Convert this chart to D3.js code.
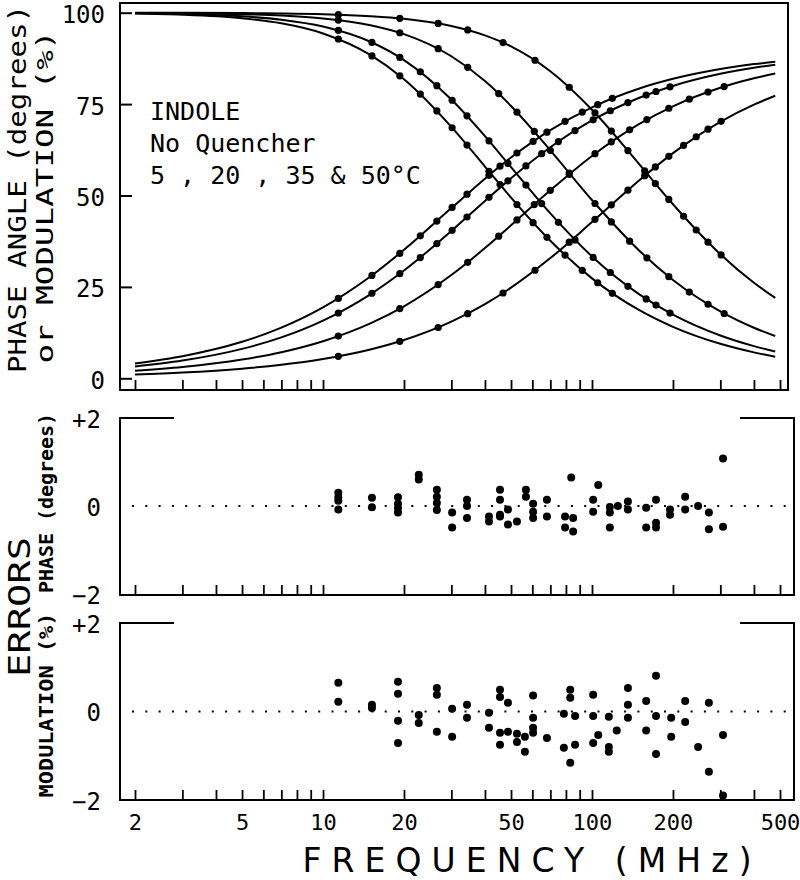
<!DOCTYPE html>
<html><head><meta charset="utf-8">
<script src="https://cdn.jsdelivr.net/npm/d3@7"></script>
<style>body{margin:0;background:#fff}svg{display:block}</style>
</head><body><svg id="c" width="800" height="880"></svg>
<script>
// ---------- DATA ----------
const curveFreq = [2,3,5,7,10,15,20,30,40,50,70,100,150,200,300,400,480];
const phase5  = [4.03,6.03,9.98,13.84,19.38,27.83,35.14,46.55,54.61,60.39,67.90,74.13,79.27,81.91,84.59,85.94,86.61];
const mod5    = [99.75,99.45,98.49,97.10,94.33,88.44,81.78,68.77,57.92,49.42,37.62,27.34,18.62,14.07,9.43,7.09,5.91];
const phase20 = [3.24,4.85,8.05,11.19,15.79,22.98,29.48,40.31,48.52,54.72,63.19,70.52,76.73,79.97,83.28,84.95,85.79];
const mod20   = [99.84,99.64,99.02,98.10,96.23,92.06,87.05,76.26,66.24,57.75,45.10,33.34,22.95,17.41,11.71,8.81,7.35];
const phase35 = [2.05,3.08,5.12,7.14,10.15,15.04,19.70,28.24,35.62,41.84,51.42,60.82,69.58,74.40,79.46,82.05,83.36];
const mod35   = [99.94,99.86,99.60,99.22,98.43,96.58,94.14,88.09,81.30,74.50,62.36,48.76,34.89,26.89,18.30,13.83,11.56];
const phase50 = [1.06,1.59,2.64,3.70,5.28,7.89,10.47,15.49,20.28,24.79,32.88,42.72,54.17,61.58,70.16,74.85,77.29];
const mod50   = [99.98,99.96,99.89,99.79,99.58,99.05,98.34,96.37,93.80,90.79,83.98,73.46,58.53,47.61,33.95,26.13,22.00];

const freq5 = [11.4,15.2,19.3,23,26.5,30.2,34.3,41.4,45.5,52.6,60.4,68,79.4,92,105,119];
const dotPhase5 = [21.86,28.14,34.17,38.98,43.00,46.74,50.35,55.53,58.01,61.63,64.80,67.32,70.30,72.83,74.85,76.57];
const dotMod5 = [92.81,88.18,82.73,77.73,73.14,68.53,63.80,56.60,52.98,47.54,42.58,38.56,33.70,29.52,26.13,23.23];
const freq20 = [11.4,15.2,19.3,23,26.5,30.2,34.3,41.4,48.7,56.8,65,75,86.5,101,117,136,159,173,195];
const dotPhase20 = [17.86,23.26,28.62,33.03,36.85,40.49,44.12,49.49,54.01,58.09,61.45,64.75,67.76,70.70,73.18,75.42,77.46,78.45,79.72];
const dotMod20 = [95.18,91.88,87.78,83.83,80.03,76.05,71.79,64.95,58.76,52.86,47.79,42.65,37.85,33.05,28.94,25.17,21.71,20.03,17.85];
const freq35 = [11.4,19.3,26.8,34.5,45,52.6,61,70,82.3,102.6,118,138,160,193,230,270,310];
const dotPhase35 = [11.54,19.07,25.64,31.71,38.87,43.31,47.53,51.42,55.80,61.44,64.67,67.97,70.76,73.86,76.35,78.31,79.79];
const dotMod35 = [97.98,94.51,90.16,85.07,77.87,72.79,67.52,62.36,56.15,47.81,42.78,37.51,32.95,27.79,23.59,20.25,17.73];
const freq50 = [11.4,19.3,26.8,34.5,46.7,61.4,82.3,102.6,118,136,157,172,193,219,244,270,302];
const dotPhase50 = [6.01,10.11,13.90,17.67,23.33,29.56,37.24,43.47,47.45,51.47,55.41,57.82,60.71,63.69,66.07,68.15,70.28];
const dotMod50 = [99.45,98.45,97.07,95.28,91.82,86.99,79.61,72.59,67.61,62.28,56.77,53.27,48.93,44.32,40.56,37.22,33.75];

const phaseErrFreq = [11.4,11.4,11.4,11.4,15.2,15.2,19.0,19.0,19.0,19.0,22.7,22.7,26.5,26.5,26.5,26.5,30.2,30.2,34.3,34.3,34.3,41.4,41.4,45.5,45.5,45.5,45.5,48.7,48.7,52.6,56.8,56.8,60.4,60.4,60.4,68,68,79.4,79.4,83.7,85.1,85.1,101,101,105.5,116.5,116.5,116.5,124.8,136,136,159,159,173,173,173,195,195,222,222,248,272,272,307,307];
const phaseErr = [0.30,0.20,0.12,-0.08,0.19,-0.03,0.20,0.05,-0.05,-0.15,0.71,0.60,0.37,0.21,0.07,-0.09,-0.15,-0.49,0.14,0.0,-0.27,-0.24,-0.35,0.37,0.14,-0.20,-0.24,-0.08,-0.42,-0.35,0.37,0.21,0.05,-0.13,-0.27,0.14,-0.24,-0.24,-0.49,0.65,-0.27,-0.58,0.14,-0.13,0.48,-0.02,-0.15,-0.49,0.0,0.10,-0.08,-0.04,-0.49,0.14,-0.38,-0.49,-0.08,-0.20,0.21,-0.08,0.0,-0.15,-0.53,1.08,-0.47];
const modErrFreq = [11.4,11.4,15.2,15.2,19.0,19.0,19.0,19.0,22.7,22.7,26.5,26.5,26.5,30.2,30.2,34.3,34.3,41.4,41.4,45.5,45.5,45.5,45.5,48.7,48.7,52.6,52.6,56.3,56.3,60.4,60.4,60.4,60.4,68,78.6,78.6,83,83,83,86.5,86.5,101,101,101,105.5,115.5,115.5,115.5,123.6,136,136,136,159,159,173,173,173,197,197,222,222,248,272,272,307,307];
const modErr = [0.65,0.22,0.15,0.08,0.67,0.40,-0.21,-0.71,-0.08,-0.26,0.53,0.38,-0.46,0.06,-0.57,0.15,-0.14,-0.03,-0.37,0.49,0.33,-0.48,-0.75,0.20,-0.46,-0.50,-0.69,-0.57,-0.91,0.36,-0.14,-0.37,-0.48,-0.60,-0.05,-0.82,0.49,0.31,-1.16,-0.10,-0.75,0.38,-0.10,-0.71,-0.53,-0.12,-0.80,-0.91,-0.43,0.53,0.15,-0.14,0.24,-0.43,0.81,-0.10,-0.96,-0.14,-0.57,0.24,-0.24,-0.80,0.20,-1.36,-0.53,-1.90];

const tickVals = [2,3,4,5,6,7,8,9,10,20,30,40,50,60,70,80,90,100,200,300,400,500];
const xLabels = [2,5,10,20,50,100,200,500];
const topYTicks = [0,25,50,75,100];
const errYTicks = [-2,0,2];

// ---------- DRAWING ----------
const FONT = "'DejaVu Sans Mono', monospace";
const svg = d3.select('#c');
svg.append('rect').attr('width',800).attr('height',880).attr('fill','#fff');

const x = d3.scaleLog().domain([1.759, 535.4]).range([120, 788]);
const yTop = d3.scaleLinear().domain([0,100]).range([378.3, 12.7]);
const yPh = d3.scaleLinear().domain([-2,2]).range([594, 418]);
const yMod = d3.scaleLinear().domain([-2,2]).range([800, 623]);

// top frame
svg.append('rect').attr('x',120).attr('y',3).attr('width',668).attr('height',387)
  .attr('fill','none').attr('stroke','#000').attr('stroke-width',2);

function xTicks(yPos){
  const g = svg.append('g').attr('transform',`translate(0,${yPos})`)
    .call(d3.axisBottom(x).tickValues(tickVals).tickSize(-10).tickFormat(''));
  g.select('.domain').remove();
  g.selectAll('line').attr('stroke','#000').attr('stroke-width',1.8);
}
xTicks(390);
xTicks(595);
xTicks(800);

// top y axis
const gy = svg.append('g').attr('transform','translate(120,0)')
  .call(d3.axisLeft(yTop).tickValues(topYTicks).tickSize(-12).tickPadding(15).tickFormat(d3.format('d')));
gy.select('.domain').remove();
gy.selectAll('line').attr('stroke','#000').attr('stroke-width',2);
gy.selectAll('text').attr('font-family',FONT).attr('font-size',24).attr('dy','0.42em').attr('fill','#000');

// error frames
function errFrame(top,bot){
  svg.append('path').attr('d',`M174,${top}H120V${bot}H794V${top}H740`)
    .attr('fill','none').attr('stroke','#000').attr('stroke-width',2);
}
errFrame(418,595);
errFrame(623,800);

const fmtErr = v => v>0 ? '+2' : (v<0 ? '\u22122' : '0');
[yPh, yMod].forEach(ys=>{
  const g = svg.append('g').attr('transform','translate(120,0)')
    .call(d3.axisLeft(ys).tickValues(errYTicks).tickSize(0).tickPadding(19).tickFormat(fmtErr));
  g.select('.domain').remove();
  g.selectAll('text').attr('font-family',FONT).attr('font-size',24).attr('dy','0.38em').attr('fill','#000');
});

// zero dotted lines
[yPh(0), yMod(0)].forEach(yy=>{
  svg.append('line').attr('x1',132).attr('x2',790).attr('y1',yy).attr('y2',yy)
    .attr('stroke','#000').attr('stroke-width',2).attr('stroke-dasharray','2,11.3');
});

// bottom x labels
const gx = svg.append('g').attr('transform','translate(0,800)')
  .call(d3.axisBottom(x).tickValues(xLabels).tickSize(0).tickPadding(14).tickFormat(d3.format('d')));
gx.select('.domain').remove();
gx.selectAll('text').attr('font-family',FONT).attr('font-size',22).attr('fill','#000');

// curves
const line = d3.line().x(d=>x(d[0])).y(d=>yTop(d[1])).curve(d3.curveMonotoneX);
[phase5,mod5,phase20,mod20,phase35,mod35,phase50,mod50].forEach(arr=>{
  svg.append('path').datum(curveFreq.map((f,i)=>[f,arr[i]])).attr('d',line)
    .attr('fill','none').attr('stroke','#000').attr('stroke-width',2);
});

// dots top
[[freq5,dotPhase5,dotMod5],[freq20,dotPhase20,dotMod20],[freq35,dotPhase35,dotMod35],[freq50,dotPhase50,dotMod50]]
.forEach(([fs,ph,md])=>{
  [ph,md].forEach(vals=>{
    svg.append('g').selectAll('circle').data(fs.map((f,i)=>[f,vals[i]])).join('circle')
      .attr('cx',d=>x(d[0])).attr('cy',d=>yTop(d[1])).attr('r',3.6).attr('fill','#000');
  });
});

// error dots
svg.append('g').selectAll('circle').data(phaseErrFreq.map((f,i)=>[f,phaseErr[i]])).join('circle')
  .attr('cx',d=>x(d[0])).attr('cy',d=>yPh(d[1])).attr('r',4).attr('fill','#000');
svg.append('g').selectAll('circle').data(modErrFreq.map((f,i)=>[f,modErr[i]])).join('circle')
  .attr('cx',d=>x(d[0])).attr('cy',d=>yMod(d[1])).attr('r',4).attr('fill','#000');

// annotation
['INDOLE','No Quencher','5 , 20 , 35 & 50\u00B0C'].forEach((t,i)=>{
  svg.append('text').attr('x',150).attr('y',120+i*32).text(t)
    .attr('font-family',FONT).attr('font-size',25).attr('fill','#000');
});

// rotated labels
function rot(t,cx,cy,size,len,bold){
  svg.append('text').attr('transform',`translate(${cx},${cy}) rotate(-90)`)
    .attr('text-anchor','middle').attr('font-family',FONT).attr('font-size',size)
    .attr('font-weight',bold?'bold':'normal').attr('fill','#000')
    .attr('textLength',len).attr('lengthAdjust','spacingAndGlyphs').text(t);
}
rot('PHASE ANGLE (degrees)',26,189,25,368,false);
rot('or MODULATION (%)',53,197,23,333,false);
rot('ERRORS',30,607,31,140,false);
rot('PHASE (degrees)',53,503,19,180,true);
rot('MODULATION (%)',53,705,19,185,true);

svg.append('text').attr('x',527).attr('y',872).attr('text-anchor','middle')
  .attr('font-family',"'DejaVu Sans', sans-serif").attr('font-size',33).attr('fill','#000')
  .attr('textLength',449).attr('lengthAdjust','spacing').text('FREQUENCY  (MHz)');
</script></body></html>
